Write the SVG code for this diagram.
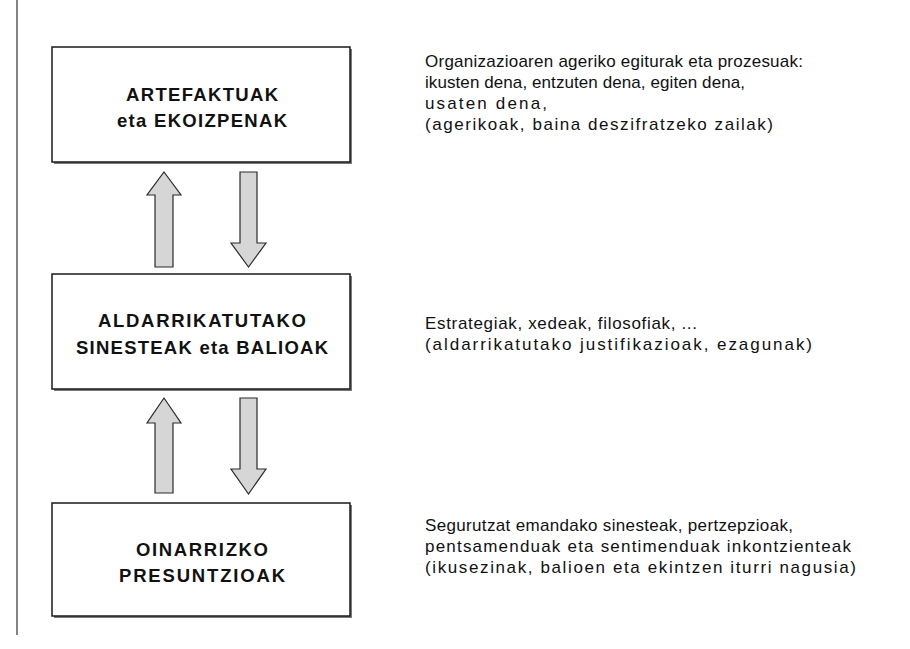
<svg xmlns="http://www.w3.org/2000/svg" width="910" height="649" viewBox="0 0 910 649">
  <defs>
    <style>
      .box { fill: #ffffff; stroke: #1a1a1a; stroke-width: 1.5; }
      .shadow { fill: #7a7a7a; }
      .label { font-family: "Liberation Sans", Arial, sans-serif; font-size: 18.5px; font-weight: bold; fill: #111111; text-anchor: middle; }
      .note { font-family: "Liberation Sans", Arial, sans-serif; font-size: 17px; fill: #111111; }
      .arrow { fill: #d6d6d6; stroke: #2a2a2a; stroke-width: 1.2; stroke-linejoin: miter; }
      .rule { stroke: #333333; stroke-width: 1.2; }
    </style>
  </defs>
  <rect width="910" height="649" fill="#ffffff"/>

  <!-- margin rule -->
  <line class="rule" x1="17" y1="0" x2="17" y2="635"/>

  <!-- level 1 -->
  <g id="artefaktuak">
    <rect class="shadow" x="54" y="49" width="298" height="115"/>
    <rect class="box" x="52" y="47" width="298" height="115"/>
    <text class="label" x="202" y="101" textLength="152" lengthAdjust="spacing">ARTEFAKTUAK</text>
    <text class="label" x="202" y="127" textLength="170" lengthAdjust="spacing">eta EKOIZPENAK</text>
  </g>

  <!-- level 2 -->
  <g id="aldarrikatutako">
    <rect class="shadow" x="54" y="276" width="298" height="115"/>
    <rect class="box" x="52" y="274" width="298" height="115"/>
    <text class="label" x="202" y="327" textLength="208" lengthAdjust="spacing">ALDARRIKATUTAKO</text>
    <text class="label" x="202" y="354" textLength="252" lengthAdjust="spacing">SINESTEAK eta BALIOAK</text>
  </g>

  <!-- level 3 -->
  <g id="oinarrizko">
    <rect class="shadow" x="54" y="505" width="298" height="113"/>
    <rect class="box" x="52" y="503" width="298" height="113"/>
    <text class="label" x="202" y="556" textLength="132" lengthAdjust="spacing">OINARRIZKO</text>
    <text class="label" x="202" y="582" textLength="166" lengthAdjust="spacing">PRESUNTZIOAK</text>
  </g>

  <!-- block arrows between levels -->
  <g id="connectors">
    <path class="arrow" d="M164,172 L181,195 L173,195 L173,267 L155,267 L155,195 L147,195 Z"/>
    <path class="arrow" d="M240,172 L257,172 L257,243 L266,243 L248.5,267 L231,243 L240,243 Z"/>
    <path class="arrow" d="M164,398 L181,423 L173,423 L173,493 L155,493 L155,423 L147,423 Z"/>
    <path class="arrow" d="M240,398 L257,398 L257,469 L266,469 L248.5,494 L231,469 L240,469 Z"/>
  </g>

  <!-- descriptions -->
  <g id="desc-artefaktuak">
    <text class="note" x="425" y="67" textLength="378" lengthAdjust="spacing">Organizazioaren ageriko egiturak eta prozesuak:</text>
    <text class="note" x="425" y="88" textLength="320" lengthAdjust="spacing">ikusten dena, entzuten dena, egiten dena,</text>
    <text class="note" x="425" y="109" textLength="122" lengthAdjust="spacing">usaten dena,</text>
    <text class="note" x="425" y="130" textLength="348" lengthAdjust="spacing">(agerikoak, baina deszifratzeko zailak)</text>
  </g>
  <g id="desc-aldarrikatutako">
    <text class="note" x="425" y="329" textLength="272" lengthAdjust="spacing">Estrategiak, xedeak, filosofiak, ...</text>
    <text class="note" x="425" y="350" textLength="387" lengthAdjust="spacing">(aldarrikatutako justifikazioak, ezagunak)</text>
  </g>
  <g id="desc-oinarrizko">
    <text class="note" x="425" y="531" textLength="368" lengthAdjust="spacing">Segurutzat emandako sinesteak, pertzepzioak,</text>
    <text class="note" x="425" y="552" textLength="426" lengthAdjust="spacing">pentsamenduak eta sentimenduak inkontzienteak</text>
    <text class="note" x="425" y="573" textLength="431" lengthAdjust="spacing">(ikusezinak, balioen eta ekintzen iturri nagusia)</text>
  </g>
</svg>
